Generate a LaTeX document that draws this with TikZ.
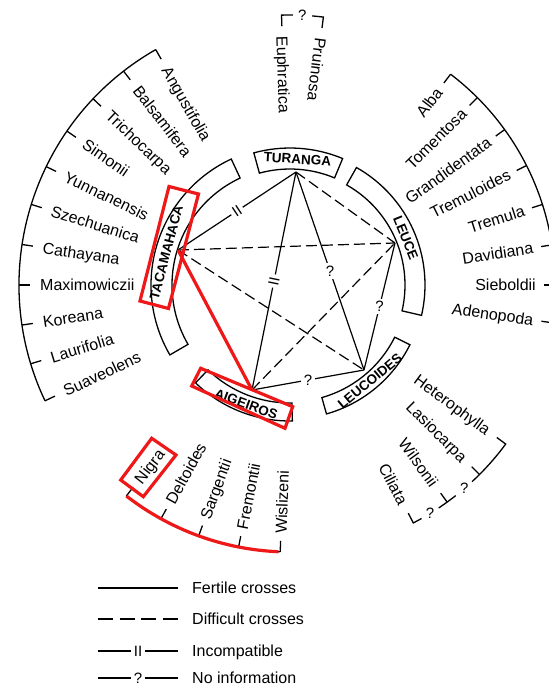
\documentclass[tikz,border=0pt]{standalone}
\usepackage{fontspec}
\setmainfont{Liberation Sans}
\usetikzlibrary{calc}
\definecolor{hlred}{RGB}{238,24,24}
% annular box: name, start angle, end angle, inner radius, outer radius
\newcommand{\ringbox}[5]{%
  \draw[boxline] (#2:#4pt) arc[start angle=#2, end angle=#3, radius=#4pt]
    -- (#3:#5pt) arc[start angle=#3, end angle=#2, radius=#5pt] -- cycle;}
\begin{document}
\begin{tikzpicture}[x=1pt,y=1pt,
  lbl/.style={font=\fontsize{16}{18}\selectfont, inner sep=0pt, text height=11.5pt, text depth=0pt},
  grp/.style={font=\fontsize{13.5}{15}\selectfont\bfseries, inner sep=0pt},
  fert/.style={line width=1.2pt},
  diff/.style={line width=1.2pt, dash pattern=on 11pt off 5pt},
  rim/.style={line width=1.3pt},
  boxline/.style={line width=1.3pt},
  qm/.style={fill=white, inner sep=2.5pt, font=\fontsize{15}{17}\selectfont},
  hl/.style={draw=hlred, line width=3.2pt},
]
\clip (-290,-401) rectangle (259,285);
\useasboundingbox (-290,-401) rectangle (259,285);

% ---- section boxes around the centre
\ringbox{turanga}{105.3}{67.4}{116}{137}
\ringbox{leuce}{60.5}{-13}{115}{135}
\ringbox{tacamahaca}{115}{210.2}{118}{139}
\ringbox{leucoides}{-26.5}{-74.2}{117}{134}
\ringbox{aigeiros}{226}{271}{118}{136}

\node[grp, rotate=-3.4]  (tTUR) at (86.6:126pt)  {TURANGA};
\node[grp, rotate=-67.9] (tLEU) at (22.1:125pt)  {LEUCE};
\node[grp, rotate=75.2]  (tTAC) at (165.2:128pt) {TACAMAHACA};
\node[grp, rotate=39.7]  (tLDS) at (-50.3:125pt) {LEUCOIDES};
\node[grp, rotate=-20.2] (tAIG) at (249.8:127pt) {AIGEIROS};

% ---- crossing network
\coordinate (T)  at (6,113);
\coordinate (L)  at (105,42);
\coordinate (TA) at (-112,35);
\coordinate (LD) at (74,-85);
\coordinate (A)  at (-38,-105);

\draw[diff] (T) -- (L);
\draw[diff] (TA) -- (L);
\draw[diff] (A) -- (L);
\draw[diff] (TA) -- (LD);
\draw[fert] (TA) -- node[qm, sloped] (m1) {II} (T);
\draw[fert] (T) -- node[qm, sloped] (m2) {II} (A);
\draw[fert] (T) -- node[qm] (m3) {?} (LD);
\draw[fert] (L) -- node[qm] (m4) {?} (LD);
\draw[fert] (A) -- node[qm] (m5) {?} (LD);

% ---- Tacamahaca species
\draw[rim] (119.7:271pt) arc[start angle=119.7, end angle=205.3, radius=271pt];
\foreach \a/\t in {119.7/Angustifolia, 127.9/Balsamifera, 136.6/Trichocarpa,
  145.4/Simonii, 154.1/Yunnanensis, 162.7/Szechuanica, 171.4/Cathayana,
  180/Maximowiczii, 188.5/Koreana, 196.9/Laurifolia, 205.3/Suaveolens}{
  \draw[rim] (\a:271pt) -- (\a:260pt);
  \node[lbl, anchor=west, rotate=\a-180] (sp-\t) at (\a:250pt) {\t};
}

% ---- Leuce species
\draw[rim] (52.7:265pt) arc[start angle=52.7, end angle=-8.2, radius=265pt];
\foreach \a/\t in {52.7/Alba, 45/Tomentosa, 35.9/Grandidentata, 26.8/Tremuloides,
  17.7/Tremula, 8.7/Davidiana, 0/Sieboldii, -8.2/Adenopoda}{
  \draw[rim] (\a:265pt) -- (\a:254pt);
  \node[lbl, anchor=east, rotate=\a] (sp-\t) at (\a:246pt) {\t};
}

% ---- Turanga species
\draw[rim] (91.8:259pt) -- (91.8:270pt) arc[start angle=91.8, end angle=89.4, radius=270pt];
\draw[rim] (85.3:270pt) arc[start angle=85.3, end angle=82.9, radius=270pt] -- (82.9:259pt);
\node[font=\fontsize{15}{17}\selectfont, inner sep=0pt] (q0) at (87.4:270pt) {?};
\node[lbl, anchor=west, rotate=-88.2] (sp-Euphratica) at (91.8:249pt) {Euphratica};
\node[lbl, anchor=west, rotate=-97.1] (sp-Pruinosa) at (82.9:249pt) {Pruinosa};

% ---- Aigeiros species
\draw[rim] (232.2:267pt) arc[start angle=232.2, end angle=267.9, radius=267pt];
\foreach \a/\t in {232.2/Nigra, 241.1/Deltoides, 250/Sargentii, 258.9/Fremontii, 267.9/Wislizeni}{
  \draw[rim] (\a:267pt) -- (\a:256pt);
  \node[lbl, anchor=west, rotate=\a-180] (sp-\t) at (\a:249pt) {\t};
}

% ---- Leucoides species
\draw[rim] (-36.4:257pt) -- (-36.4:268pt) arc[start angle=-36.4, end angle=-47.2, radius=268pt];
\draw[rim] (-45:268pt) -- (-45:257pt);
\node[font=\fontsize{15}{17}\selectfont, inner sep=0pt] (q1) at (-49.4:268pt) {?};
\draw[rim] (-51.8:268pt) arc[start angle=-51.8, end angle=-56.3, radius=268pt];
\draw[rim] (-54.1:268pt) -- (-54.1:257pt);
\node[font=\fontsize{15}{17}\selectfont, inner sep=0pt] (q2) at (-58.5:268pt) {?};
\draw[rim] (-60.6:268pt) arc[start angle=-60.6, end angle=-62.6, radius=268pt] -- (-62.6:257pt);
\foreach \a/\t in {-36.4/Heterophylla, -45/Lasiocarpa, -54.1/Wilsonii, -62.6/Ciliata}{
  \node[lbl, anchor=east, rotate=\a] (sp-\t) at (\a:247pt) {\t};
}

% ---- legend
\coordinate (k1a) at (-192,-303); \coordinate (k1b) at (-112,-303);
\coordinate (k2a) at (-192,-334); \coordinate (k2b) at (-112,-334);
\coordinate (k3a) at (-192,-366); \coordinate (k3b) at (-112,-366);
\coordinate (k4a) at (-192,-393); \coordinate (k4b) at (-112,-393);
\draw[fert] (k1a) -- (k1b);
\draw[line width=1.2pt, dash pattern=on 15pt off 6.67pt] (k2a) -- (k2b);
\draw[fert] (k3a) -- node[qm] (k3m) {II} (k3b);
\draw[fert] (k4a) -- node[qm] (k4m) {?} (k4b);
\node[lbl, anchor=west] (k1t) at (-98,-303) {Fertile crosses};
\node[lbl, anchor=west] (k2t) at (-98,-334) {Difficult crosses};
\node[lbl, anchor=west] (k3t) at (-98,-366) {Incompatible};
\node[lbl, anchor=west] (k4t) at (-98,-393) {No information};

% ---- red highlights
\draw[hl] (TA) -- (A);
\draw[hl] (-121,98.5) -- (-91.5,91) -- (-121.5,-23.5) -- (-150,-16) -- cycle;
\draw[hl] (-89.3,-83.3) -- (2.7,-121.7) -- (-5,-143.3) -- (-98.3,-101) -- cycle;
\draw[hl] (-138.3,-153.3) -- (-114,-170) -- (-146.7,-211.7) -- (-169.3,-195) -- cycle;
\draw[hl] (232.2:267pt) arc[start angle=232.2, end angle=267.5, radius=267pt];
\end{tikzpicture}
\end{document}
